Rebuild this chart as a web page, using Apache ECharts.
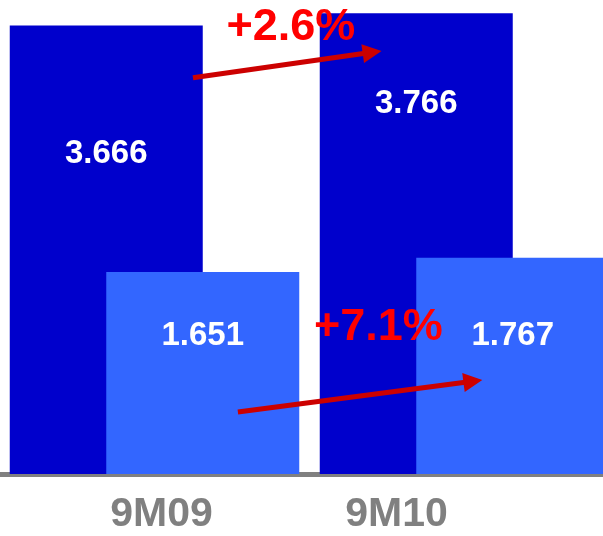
<!DOCTYPE html>
<html>
<head>
<meta charset="utf-8">
<script src="https://cdn.jsdelivr.net/npm/echarts@6/dist/echarts.min.js"></script>
<style>
  html, body { margin: 0; padding: 0; background: #ffffff; overflow: hidden; }
  #chart { width: 603px; height: 536px; }
</style>
</head>
<body>
<div id="chart"></div>
<script>
// Periods and sales figures
var categories = ['9M09', '9M10'];
var totalValues = [3.666, 3.766];
var segmentValues = [1.651, 1.767];
var growthLabels = ['+2.6%', '+7.1%'];

// Growth arrows in (period position, value) space: 0.5 = first period, 1.5 = second
var growthArrows = [
  [[0.624, 3.238], [1.202, 3.446]],
  [[0.769, 0.507], [1.527, 0.758]]
];
var growthLabelPos = [[0.940, 3.645], [1.222, 1.198]];

var FONT = 'Liberation Sans, Arial, Helvetica, sans-serif';

var chart = echarts.init(document.getElementById('chart'), null, { renderer: 'canvas' });

function valueLabelItems(values, offsets) {
  return values.map(function (v, i) {
    return {
      value: v,
      label: { position: ['50%', offsets[i]] }
    };
  });
}

var option = {
  backgroundColor: '#ffffff',
  animation: false,
  grid: {
    left: -0.5, right: -16.5, top: 9, bottom: 62,
    containLabel: false,
    outerBoundsMode: 'none'
  },
  xAxis: [
    {
      type: 'category',
      data: categories,
      axisLine: { show: true, lineStyle: { color: '#808080', width: 5 } },
      axisTick: { show: false },
      axisLabel: {
        margin: 20,
        formatter: function (val, idx) {
          return '{c' + idx + '|' + val + '}';
        },
        rich: {
          c0: { fontFamily: FONT, fontWeight: 'bold', fontSize: 41, color: '#808080', padding: [0, 0, 0, 14] },
          c1: { fontFamily: FONT, fontWeight: 'bold', fontSize: 41, color: '#808080', padding: [0, 136, 0, 0] }
        }
      },
      splitLine: { show: false }
    },
    {
      type: 'value',
      min: 0,
      max: 2,
      show: false
    }
  ],
  yAxis: {
    type: 'value',
    min: 0,
    max: 3.8,
    show: false,
    splitLine: { show: false }
  },
  series: [
    {
      name: 'total',
      type: 'bar',
      xAxisIndex: 0,
      barWidth: 193,
      barGap: '-50%',
      itemStyle: { color: '#0000CC' },
      label: {
        show: true,
        align: 'center',
        verticalAlign: 'middle',
        color: '#ffffff',
        fontFamily: FONT,
        fontWeight: 'bold',
        fontSize: 33,
        formatter: function (p) { return p.value.toFixed(3); }
      },
      data: valueLabelItems(totalValues, [129, 91])
    },
    {
      name: 'segment',
      type: 'bar',
      xAxisIndex: 0,
      barWidth: 193,
      barGap: '-50%',
      itemStyle: { color: '#3366FF' },
      label: {
        show: true,
        align: 'center',
        verticalAlign: 'middle',
        color: '#ffffff',
        fontFamily: FONT,
        fontWeight: 'bold',
        fontSize: 33,
        formatter: function (p) { return p.value.toFixed(3); }
      },
      data: valueLabelItems(segmentValues, [64, 78])
    },
    {
      name: 'growth',
      type: 'line',
      xAxisIndex: 1,
      data: [],
      silent: true,
      z: 5,
      markLine: {
        silent: true,
        symbol: ['none', 'triangle'],
        symbolSize: 19,
        lineStyle: { color: '#CC0000', width: 5, type: 'solid' },
        itemStyle: { color: '#CC0000' },
        label: { show: false },
        data: growthArrows.map(function (a) {
          return [{ coord: a[0] }, { coord: a[1] }];
        })
      },
      markPoint: {
        silent: true,
        symbol: 'circle',
        symbolSize: 0,
        label: {
          show: true,
          position: 'inside',
          color: '#FF0000',
          fontFamily: FONT,
          fontWeight: 'bold',
          fontSize: 45
        },
        data: growthLabelPos.map(function (p, i) {
          return { coord: p, value: growthLabels[i], label: { formatter: growthLabels[i] } };
        })
      }
    }
  ]
};

chart.setOption(option);
</script>
</body>
</html>
